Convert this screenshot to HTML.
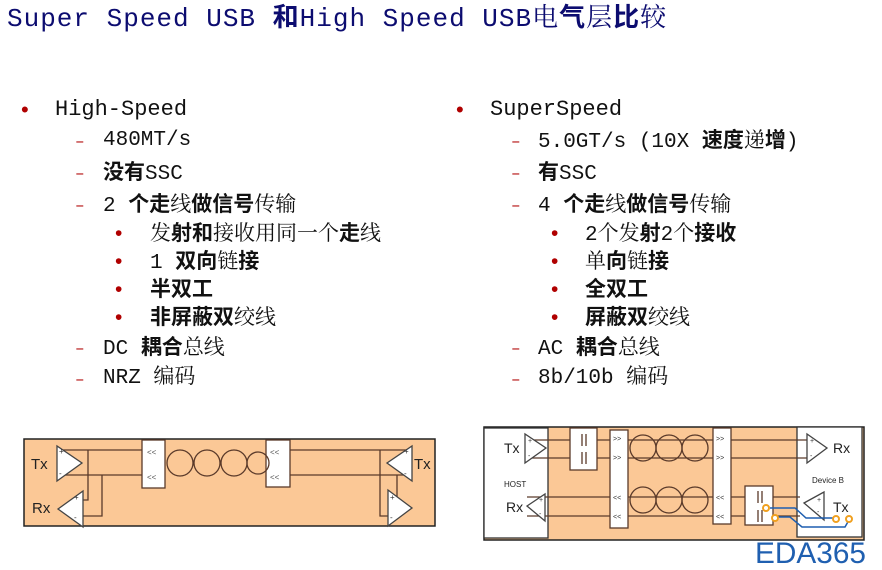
<!DOCTYPE html>
<html><head><meta charset="utf-8"><style>
body{margin:0;width:882px;height:570px;background:#fff;position:relative;overflow:hidden;font-family:"Liberation Mono","Noto Serif CJK SC",monospace;}
.t{position:absolute;white-space:nowrap;line-height:1;}
.title{left:7px;top:4px;font-size:26px;color:#0c0c70;letter-spacing:1px;}
.title b{font-family:"Liberation Sans","Noto Sans CJK SC",sans-serif;}
.l1{font-size:22px;color:#111;}
.l2{font-size:21px;color:#111;}
.l3{font-size:21px;color:#111;}
b{font-family:"Liberation Sans","Noto Sans CJK SC",sans-serif;font-weight:bold;}
.bul{color:#b00000;font-family:"Liberation Sans",sans-serif;}
.d{color:#b00000;font-size:16px;}
</style></head><body>
<div class="t title">Super Speed USB <b>和</b>High Speed USB电<b>气</b>层<b>比</b>较</div>

<div class="t l1 bul" style="left:21px;top:99px">•</div><div class="t l1" style="left:55px;top:99px">High-Speed</div>
<div class="t d" style="left:75px;top:134px">–</div><div class="t l2" style="left:103px;top:130px">480MT/s</div>
<div class="t d" style="left:75px;top:166px">–</div><div class="t l2" style="left:103px;top:162px"><b>没有</b>SSC</div>
<div class="t d" style="left:75px;top:198px">–</div><div class="t l2" style="left:103px;top:194px">2 <b>个走</b>线<b>做信号</b>传输</div>
<div class="t l3 bul" style="left:115px;top:223px">•</div><div class="t l3" style="left:150px;top:223px">发<b>射和</b>接收用同一个<b>走</b>线</div>
<div class="t l3 bul" style="left:115px;top:251px">•</div><div class="t l3" style="left:150px;top:251px">1 <b>双向</b>链<b>接</b></div>
<div class="t l3 bul" style="left:115px;top:279px">•</div><div class="t l3" style="left:150px;top:279px"><b>半双工</b></div>
<div class="t l3 bul" style="left:115px;top:307px">•</div><div class="t l3" style="left:150px;top:307px"><b>非屏蔽双</b>绞线</div>
<div class="t d" style="left:75px;top:341px">–</div><div class="t l2" style="left:103px;top:337px">DC <b>耦合</b>总线</div>
<div class="t d" style="left:75px;top:372px">–</div><div class="t l2" style="left:103px;top:368px">NRZ 编码</div>

<div class="t l1 bul" style="left:456px;top:99px">•</div><div class="t l1" style="left:490px;top:99px">SuperSpeed</div>
<div class="t d" style="left:511px;top:134px">–</div><div class="t l2" style="left:538px;top:130px">5.0GT/s (10X <b>速度</b>递<b>增</b>)</div>
<div class="t d" style="left:511px;top:166px">–</div><div class="t l2" style="left:538px;top:162px"><b>有</b>SSC</div>
<div class="t d" style="left:511px;top:198px">–</div><div class="t l2" style="left:538px;top:194px">4 <b>个走</b>线<b>做信号</b>传输</div>
<div class="t l3 bul" style="left:551px;top:223px">•</div><div class="t l3" style="left:585px;top:223px">2个发<b>射</b>2个<b>接收</b></div>
<div class="t l3 bul" style="left:551px;top:251px">•</div><div class="t l3" style="left:585px;top:251px">单<b>向</b>链<b>接</b></div>
<div class="t l3 bul" style="left:551px;top:279px">•</div><div class="t l3" style="left:585px;top:279px"><b>全双工</b></div>
<div class="t l3 bul" style="left:551px;top:307px">•</div><div class="t l3" style="left:585px;top:307px"><b>屏蔽双</b>绞线</div>
<div class="t d" style="left:511px;top:341px">–</div><div class="t l2" style="left:538px;top:337px">AC <b>耦合</b>总线</div>
<div class="t d" style="left:511px;top:372px">–</div><div class="t l2" style="left:538px;top:368px">8b/10b 编码</div>

<svg width="882" height="570" style="position:absolute;left:0;top:0" font-family="Liberation Sans,sans-serif">
<g stroke="#5a3a2a" stroke-width="1.3" fill="none">
<rect x="24" y="439" width="411" height="87" fill="#fbc896" stroke="#222" stroke-width="1.5"/>
<path d="M57 450H142 M57 475H142 M290 450H412 M290 475H412"/>
<path d="M88 450V500H82 M102 475V516H82 M397 475V500H388 M380 450V516H388"/>
<g fill="#fff"><rect x="142" y="440" width="23" height="48"/><rect x="266" y="440" width="24" height="47"/></g>
<circle cx="180" cy="463" r="13"/><circle cx="207" cy="463" r="13"/><circle cx="234" cy="463" r="13"/><circle cx="258" cy="463" r="11"/>
<g fill="#fff" stroke="#444"><path d="M57 446V481L82 463Z"/><path d="M58 509L83 491V527Z"/><path d="M412 446V481L387 463Z"/><path d="M388 490V526L412 508Z"/></g>
</g>
<g font-size="8" fill="#333"><text x="59" y="454">+</text><text x="59" y="476">-</text><text x="74" y="500">+</text><text x="74" y="520">-</text><text x="404" y="454">+</text><text x="404" y="476">-</text><text x="390" y="500">+</text><text x="390" y="520">-</text>
<text x="147" y="455" fill="#555">&lt;&lt;</text><text x="147" y="480" fill="#555">&lt;&lt;</text><text x="270" y="455" fill="#555">&lt;&lt;</text><text x="270" y="480" fill="#555">&lt;&lt;</text></g>
<g font-size="15" fill="#222"><text x="31" y="469">Tx</text><text x="32" y="513">Rx</text><text x="414" y="469">Tx</text></g>

<g stroke="#5a3a2a" stroke-width="1.3" fill="none">
<rect x="484" y="427" width="380" height="113" fill="#fbc896" stroke="#222" stroke-width="1.5"/>
<rect x="484" y="428" width="64" height="110" fill="#fff" stroke="#333"/>
<rect x="797" y="427" width="65" height="110" fill="#fff" stroke="#333"/>
<path d="M525 440H807 M525 458H807 M527 497H800 M527 516H800"/>
<g fill="#fff"><rect x="570" y="428" width="27" height="42"/><rect x="610" y="430" width="18" height="98"/><rect x="713" y="428" width="18" height="96"/><rect x="745" y="486" width="28" height="39"/></g>
<path d="M582 434V446 M586 434V446 M582 452V464 M586 452V464 M758 491V503 M762 491V503 M758 510V522 M762 510V522"/>
<circle cx="643" cy="448" r="13"/><circle cx="669" cy="448" r="13"/><circle cx="695" cy="448" r="13"/><circle cx="643" cy="500" r="13"/><circle cx="669" cy="500" r="13"/><circle cx="695" cy="500" r="13"/>
<g fill="#fff" stroke="#444"><path d="M525 434V463L546 448Z"/><path d="M527 506L545 494V521Z"/><path d="M807 434V463L827 448Z"/><path d="M804 503L824 492V520Z"/></g>
</g>
<g font-size="7" fill="#333"><text x="528" y="443">+</text><text x="528" y="458">-</text><text x="539" y="502">+</text><text x="539" y="516">-</text><text x="810" y="443">+</text><text x="810" y="458">-</text><text x="817" y="502">+</text><text x="817" y="514">-</text>
<text x="613" y="441">&gt;&gt;</text><text x="613" y="460">&gt;&gt;</text><text x="716" y="441">&gt;&gt;</text><text x="716" y="460">&gt;&gt;</text>
<text x="613" y="500">&lt;&lt;</text><text x="613" y="519">&lt;&lt;</text><text x="716" y="500">&lt;&lt;</text><text x="716" y="519">&lt;&lt;</text></g>
<g fill="#222"><text x="504" y="453" font-size="14">Tx</text><text x="506" y="512" font-size="14">Rx</text><text x="833" y="453" font-size="14">Rx</text><text x="833" y="512" font-size="14">Tx</text>
<text x="504" y="487" font-size="8">HOST</text><text x="812" y="483" font-size="8">Device B</text></g>
<g stroke="#1f5fb0" stroke-width="1.5" fill="none"><path d="M770 508H795L806 518H835"/><path d="M775 517H790L802 527H845L849 520"/></g>
<g stroke="#f0a020" stroke-width="2" fill="#fff"><circle cx="766" cy="508" r="3"/><circle cx="775" cy="518" r="3"/><circle cx="836" cy="519" r="3"/><circle cx="849" cy="519" r="3"/></g>
<text x="755" y="563" font-size="30" fill="#1f5fb0" font-family="Liberation Sans,sans-serif" textLength="111" lengthAdjust="spacingAndGlyphs">EDA365</text>
</svg>
</body></html>
